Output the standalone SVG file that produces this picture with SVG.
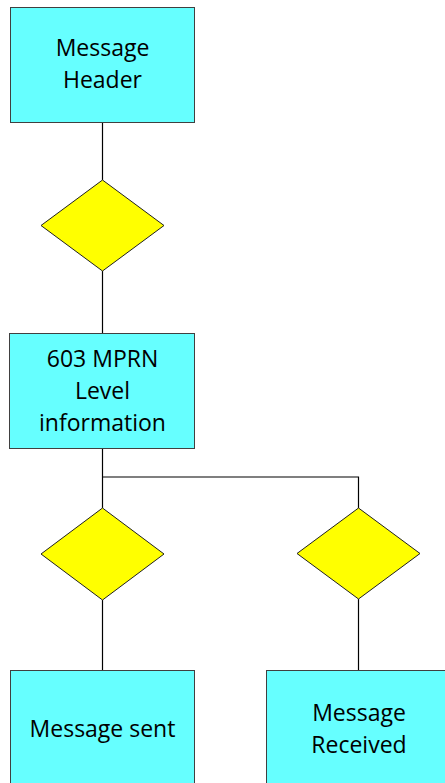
<svg xmlns="http://www.w3.org/2000/svg" width="445" height="783" viewBox="0 0 445 783">
<style>
.box{fill:#66FFFF;stroke:#404040;stroke-width:1}
.dia{fill:#FFFF00;stroke:#202020;stroke-width:1}
.conn{fill:none;stroke:#000;stroke-width:1.2}
text{font-family:"Open Sans","Liberation Sans",Arial,sans-serif;font-size:23px;fill:#000;text-anchor:middle}
</style>
<rect width="445" height="783" fill="#fff"/>
<g id="connectors">
<path class="conn" d="M102.5,122 V180"/>
<path class="conn" d="M102.5,271 V333"/>
<path class="conn" d="M102.5,448 V508"/>
<path class="conn" d="M102.5,477 H358.5 V508"/>
<path class="conn" d="M102.5,600 V670"/>
<path class="conn" d="M358.5,599 V670"/>
</g>
<g id="header">
<rect class="box" x="10.5" y="7.5" width="184" height="115"/>
<text x="102.5" y="56">Message</text>
<text x="102.5" y="88">Header</text>
</g>
<g id="decision1">
<polygon class="dia" points="102.5,180 164,225.5 102.5,271 41,225.5"/>
</g>
<g id="mprn">
<rect class="box" x="9.5" y="333.5" width="185" height="115"/>
<text x="102.5" y="367">603 MPRN</text>
<text x="102.5" y="399">Level</text>
<text x="102.5" y="431">information</text>
</g>
<g id="decision2">
<polygon class="dia" points="102.5,508 164,554 102.5,600 41,554"/>
</g>
<g id="decision3">
<polygon class="dia" points="358.5,508 420,553.5 358.5,599 297,553.5"/>
</g>
<g id="sent">
<rect class="box" x="10.5" y="670.5" width="184" height="115"/>
<text x="102.5" y="737">Message sent</text>
</g>
<g id="received">
<rect class="box" x="266.5" y="670.5" width="185" height="115"/>
<text x="359" y="721">Message</text>
<text x="359" y="753">Received</text>
</g>
</svg>
